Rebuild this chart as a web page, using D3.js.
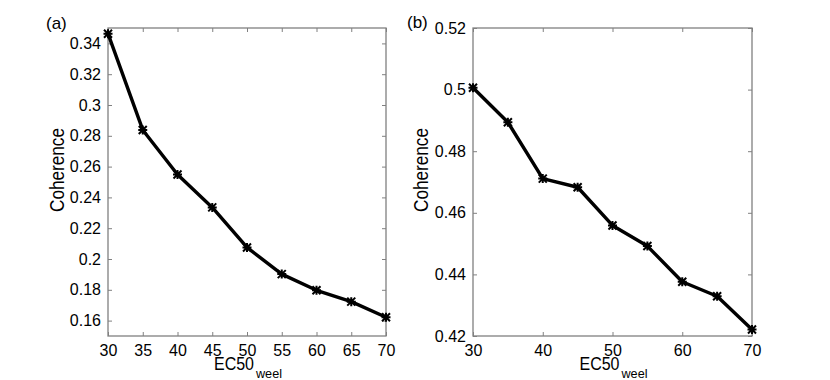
<!DOCTYPE html>
<html>
<head>
<meta charset="utf-8">
<script src="https://cdn.jsdelivr.net/npm/d3@7"></script>
<style>
body { margin: 0; background: #fff; }
svg text { font-family: "Liberation Sans", Arial, Helvetica, sans-serif; fill: #000; }
</style>
</head>
<body>
<div id="chart"></div>
<script>
// values
var ec50 = [30, 35, 40, 45, 50, 55, 60, 65, 70];
var coherenceA = [0.3463, 0.2838, 0.2549, 0.2335, 0.2075, 0.1902, 0.1797, 0.1723, 0.1622];
var coherenceB = [0.5006, 0.4894, 0.4711, 0.4683, 0.4559, 0.4492, 0.4376, 0.4329, 0.4221];
var ticksXA = [30, 35, 40, 45, 50, 55, 60, 65, 70];
var ticksXB = [30, 40, 50, 60, 70];
var ticksYA = [0.16, 0.18, 0.2, 0.22, 0.24, 0.26, 0.28, 0.3, 0.32, 0.34];
var ticksYB = [0.42, 0.44, 0.46, 0.48, 0.5, 0.52];

var W = 830, H = 380;
var svg = d3.select("#chart").append("svg").attr("width", W).attr("height", H);

function panel(opt) {
	var left = opt.left, right = opt.right, top = 28, bottom = 336;
	var x = d3.scaleLinear().domain([30, 70]).range([left, right]);
	var y = d3.scaleLinear().domain(opt.ydom).range([bottom, top]);
	var g = svg.append("g");

	var fmt = function(d) { return String(+d.toFixed(2)); };

	// grey box, ticks pointing inwards on all four sides
	g.append("rect").attr("x", left).attr("y", top)
		.attr("width", right - left).attr("height", bottom - top)
		.attr("fill", "none").attr("stroke", "#808080").attr("stroke-width", 1.3);

	var xb = d3.axisBottom(x).tickValues(opt.xt).tickSizeInner(-4).tickSizeOuter(0).tickPadding(8.5).tickFormat(d3.format("d"));
	var xt = d3.axisTop(x).tickValues(opt.xt).tickSizeInner(-4).tickSizeOuter(0).tickFormat("");
	var yl = d3.axisLeft(y).tickValues(opt.yt).tickSizeInner(-4).tickSizeOuter(0).tickPadding(7).tickFormat(fmt);
	var yr = d3.axisRight(y).tickValues(opt.yt).tickSizeInner(-4).tickSizeOuter(0).tickFormat("");

	[[xb, "translate(0," + bottom + ")"], [xt, "translate(0," + top + ")"],
	 [yl, "translate(" + left + ",0)"], [yr, "translate(" + right + ",0)"]].forEach(function(a) {
		var ax = g.append("g").attr("transform", a[1]).call(a[0]);
		ax.select(".domain").remove();
		ax.selectAll("line").attr("stroke", "#808080");
		ax.selectAll("text").style("font-size", "16px").attr("fill", "#000");
	});

	var line = d3.line().x(function(d, i) { return x(ec50[i]); }).y(function(d) { return y(d); });
	g.append("path").datum(opt.vals).attr("d", line)
		.attr("fill", "none").attr("stroke", "#000").attr("stroke-width", 3.4).attr("stroke-linejoin", "round");

	var m = g.selectAll(".mk").data(opt.vals).enter().append("g")
		.attr("transform", function(d, i) { return "translate(" + x(ec50[i]) + "," + y(d) + ")"; });
	m.append("path").attr("d", "M-4,-4L4,4M-4,4L4,-4M0,-4.5L0,4.5M-4.5,0L4.5,0")
		.attr("stroke", "#000").attr("stroke-width", 2);

	// labels (the original font is narrow, hence textLength)
	g.append("text").attr("transform", "translate(" + opt.ylx + ",170) rotate(-90)")
		.attr("text-anchor", "middle").attr("dy", "0.35em").style("font-size", "20px")
		.attr("textLength", 84).attr("lengthAdjust", "spacingAndGlyphs").text("Coherence");
	var cx = (left + right) / 2 + 1;
	g.append("text").attr("x", cx - 34).attr("y", 370).style("font-size", "18.5px")
		.attr("textLength", 40).attr("lengthAdjust", "spacingAndGlyphs").text("EC50");
	g.append("text").attr("x", cx + 8).attr("y", 377.5).style("font-size", "13px")
		.attr("textLength", 26).attr("lengthAdjust", "spacingAndGlyphs").text("weel");
	g.append("text").attr("x", opt.tagx).attr("y", opt.tagy).style("font-size", "17px").text(opt.tag);
}

panel({left: 108, right: 386, ydom: [0.15, 0.35], xt: ticksXA, yt: ticksYA, vals: coherenceA, ylx: 57, tag: "(a)", tagx: 46, tagy: 29});
panel({left: 473, right: 752, ydom: [0.42, 0.52], xt: ticksXB, yt: ticksYB, vals: coherenceB, ylx: 421, tag: "(b)", tagx: 407, tagy: 28});
</script>
</body>
</html>
